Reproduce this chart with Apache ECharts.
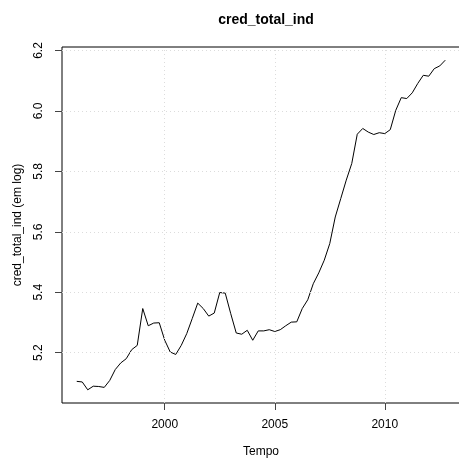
<!DOCTYPE html>
<html>
<head>
<meta charset="utf-8">
<script src="https://cdn.jsdelivr.net/npm/echarts@6/dist/echarts.min.js"></script>
<style>html,body{margin:0;padding:0;background:#fff}#c{width:459px;height:458px}</style>
</head>
<body>
<div id="c"></div>
<script>
// Quarterly series, 1996 Q1 .. 2012 Q4
const startYear = 1996;
const values = [
  5.105, 5.103, 5.077, 5.089,
  5.088, 5.085, 5.108, 5.144,
  5.166, 5.180, 5.210, 5.224,
  5.346, 5.289, 5.298, 5.299,
  5.241, 5.202, 5.194, 5.224,
  5.263, 5.313, 5.364, 5.346,
  5.321, 5.331, 5.399, 5.397,
  5.329, 5.265, 5.261, 5.274,
  5.241, 5.272, 5.272, 5.276,
  5.270, 5.276, 5.289, 5.301,
  5.302, 5.346, 5.375, 5.428,
  5.464, 5.506, 5.561, 5.649,
  5.710, 5.771, 5.826, 5.923,
  5.942, 5.930, 5.922, 5.928,
  5.925, 5.938, 6.002, 6.044,
  6.041, 6.060, 6.091, 6.118,
  6.115, 6.140, 6.149, 6.168
];
const xTicks = [2000, 2005, 2010];
const yTicks = [5.2, 5.4, 5.6, 5.8, 6.0, 6.2];

const times = values.map((v, i) => startYear + i / 4);
const data = values.map((v, i) => [times[i], v]);

// R-style 4% axis extension
function ext(arr) {
  const mn = Math.min(...arr), mx = Math.max(...arr), r = mx - mn;
  return [mn - 0.04 * r, mx + 0.04 * r];
}
const [xmin, xmax] = ext(times);
const [ymin, ymax] = ext(values);

const font = "'Liberation Sans', Arial, Helvetica, sans-serif";
const chart = echarts.init(document.getElementById('c'), null, {renderer: 'canvas'});
chart.setOption({
  animation: false,
  backgroundColor: '#fff',
  title: {
    text: 'cred_total_ind',
    left: 261, top: 8, textAlign: 'center',
    textStyle: {fontFamily: font, fontSize: 14, fontWeight: 'bold', color: '#000'}
  },
  grid: {
    left: 62, top: 47, width: 398, height: 356,
    outerBoundsMode: 'none', containLabel: false,
    show: true, borderColor: '#000', borderWidth: 1, backgroundColor: 'transparent'
  },
  xAxis: {
    type: 'value', min: xmin, max: xmax,
    name: 'Tempo', nameLocation: 'middle', nameGap: 43,
    nameTextStyle: {fontFamily: font, fontSize: 12, color: '#000'},
    axisLine: {show: false},
    axisTick: {show: true, length: 7, customValues: xTicks, lineStyle: {color: '#444'}},
    axisLabel: {customValues: xTicks, margin: 16, fontFamily: font, fontSize: 12, color: '#000',
      formatter: v => String(Math.round(v))},
    splitLine: {show: false}
  },
  yAxis: {
    type: 'value', min: ymin, max: ymax,
    name: 'cred_total_ind (em log)', nameLocation: 'middle', nameGap: 38, nameRotate: 90,
    nameTextStyle: {fontFamily: font, fontSize: 12, color: '#000'},
    axisLine: {show: false},
    axisTick: {show: true, length: 7, customValues: yTicks, lineStyle: {color: '#444'}},
    axisLabel: {customValues: yTicks, rotate: 90, margin: 17, fontFamily: font, fontSize: 12, color: '#000',
      formatter: v => v.toFixed(1)},
    splitLine: {show: false}
  },
  series: [{
    type: 'line', data: data, showSymbol: false, symbol: 'none',
    lineStyle: {color: '#000', width: 1}, silent: true,
    markLine: {
      silent: true, symbol: 'none', label: {show: false},
      lineStyle: {color: '#dcdcdc', type: [1, 3], width: 1},
      data: xTicks.map(t => ({xAxis: t})).concat(yTicks.map(t => ({yAxis: t})))
    }
  }]
});
</script>
</body>
</html>
